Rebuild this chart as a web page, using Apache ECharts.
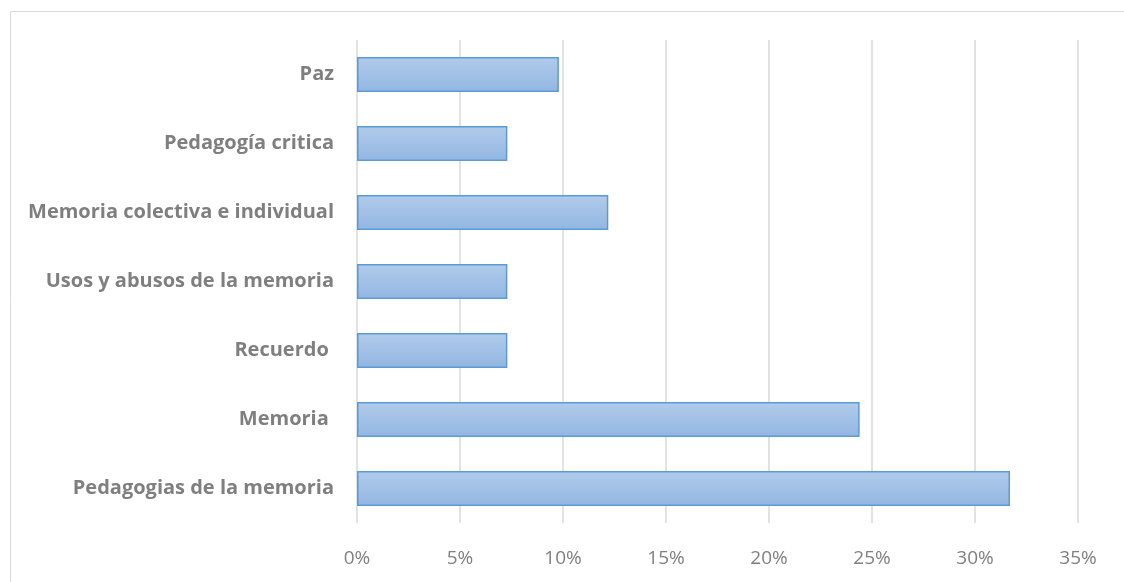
<!DOCTYPE html>
<html>
<head>
<meta charset="utf-8">
<script src="https://cdn.jsdelivr.net/npm/echarts@6/dist/echarts.min.js"></script>
<style>
  html, body { margin: 0; padding: 0; background: #ffffff; }
  #chart { width: 1124px; height: 582px; }
</style>
</head>
<body>
<div id="chart"></div>
<script>
// Categories listed bottom to top (category axis starts at the bottom)
const categories = [
  'Pedagogias de la memoria',
  'Memoria ',
  'Recuerdo ',
  'Usos y abusos de la memoria',
  'Memoria colectiva e individual',
  'Pedagogía critica',
  'Paz'
];
// Share of documents per topic, in percent
const shares = [31.7, 24.4, 7.3, 7.3, 12.2, 7.3, 9.8];
// Value axis range and step, in percent
const axisMin = 0;
const axisMax = 35;
const axisStep = 5;

const chart = echarts.init(document.getElementById('chart'));
chart.setOption({
  animation: false,
  graphic: [{
    type: 'rect',
    shape: { x: 10.5, y: 11.5, width: 1300, height: 800 },
    style: { fill: 'none', stroke: '#d9d9d9', lineWidth: 1 },
    silent: true
  }],
  grid: { left: 357, right: 46, top: 40, bottom: 59, containLabel: false },
  xAxis: {
    type: 'value',
    min: axisMin,
    max: axisMax,
    interval: axisStep,
    axisLine: { show: false },
    axisTick: { show: false },
    splitLine: { show: true, lineStyle: { color: '#d9d9d9', width: 1.5 } },
    axisLabel: {
      formatter: v => v + '%',
      color: '#808080',
      fontFamily: '"Open Sans", sans-serif',
      fontSize: 19,
      margin: 26
    }
  },
  yAxis: {
    type: 'category',
    data: categories,
    axisLine: { show: false },
    axisTick: { show: false },
    splitLine: { show: false },
    axisLabel: {
      color: '#7f7f7f',
      fontFamily: '"Open Sans", sans-serif',
      fontWeight: 'bold',
      fontSize: 20,
      margin: 23,
      padding: [5, 0, 0, 0]
    }
  },
  series: [{
    type: 'bar',
    data: shares,
    barWidth: '51%',
    itemStyle: {
      color: new echarts.graphic.LinearGradient(0, 0, 0, 1, [
        { offset: 0, color: '#b1cbea' },
        { offset: 1, color: '#92b6e2' }
      ]),
      borderColor: '#5b9bd5',
      borderWidth: 1.5
    }
  }]
});
</script>
</body>
</html>
